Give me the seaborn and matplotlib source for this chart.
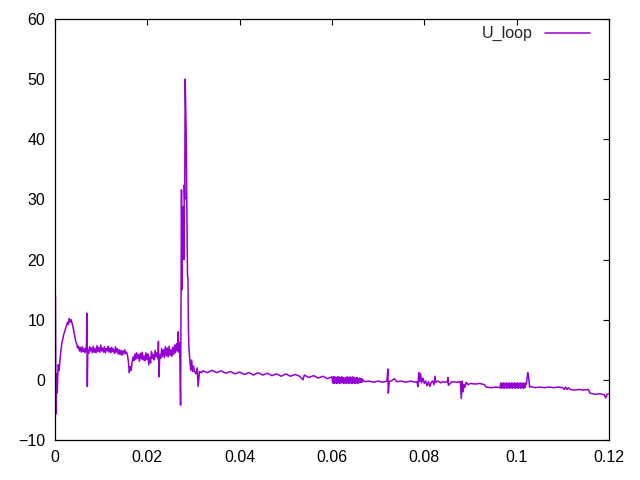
import matplotlib
matplotlib.use("Agg")
import matplotlib.pyplot as plt
import seaborn as sns
import pandas as pd

# U_loop signal (time in s, voltage)
t_rise = [0.0001, 0.0002, 0.0003, 0.0004, 0.0005, 0.0006, 0.0007, 0.0009, 0.0011, 0.0013,
          0.0015, 0.0017, 0.0019, 0.0021, 0.0023, 0.0025, 0.0027, 0.0029, 0.0031, 0.0033,
          0.0035, 0.0037, 0.0039, 0.0041, 0.0043, 0.0045, 0.0047, 0.0049, 0.0051, 0.0053]
u_rise = [14.0, -5.7, 1.0, -0.5, -2.2, 0.8, 2.5, 1.5, 3.5, 5.0,
          6.2, 6.8, 7.6, 8.0, 8.6, 9.0, 9.6, 9.2, 10.2, 9.6,
          10.0, 9.4, 8.8, 8.0, 7.2, 6.4, 6.0, 5.3, 5.6, 4.8]

t_plateau = [0.0055, 0.0057, 0.0059, 0.0061, 0.0063, 0.0065, 0.0067, 0.0068, 0.0069, 0.0070,
             0.0071, 0.0073, 0.0075, 0.0077, 0.0079, 0.0081, 0.0083, 0.0085, 0.0087, 0.0089,
             0.0091, 0.0093, 0.0095, 0.0097, 0.0099, 0.0101, 0.0103, 0.0105, 0.0107, 0.0109,
             0.0111, 0.0113, 0.0115, 0.0117, 0.0119, 0.0121, 0.0123, 0.0125, 0.0127, 0.0129,
             0.0131, 0.0133, 0.0135, 0.0137, 0.0139, 0.0141, 0.0143, 0.0145, 0.0147, 0.0149,
             0.0151, 0.0153, 0.0155, 0.0157, 0.0159, 0.0161, 0.0163, 0.0165, 0.0167, 0.0169]
u_plateau = [5.4, 4.6, 5.5, 4.7, 5.2, 4.5, 5.3, 4.8, 11.1, -1.1,
             5.0, 4.4, 5.5, 4.8, 5.3, 4.5, 5.6, 4.6, 5.2, 4.5,
             5.7, 4.7, 5.4, 4.6, 5.8, 4.8, 5.3, 4.6, 5.5, 4.5,
             5.2, 4.8, 5.6, 4.6, 5.3, 4.5, 5.4, 4.7, 5.1, 4.4,
             5.5, 4.6, 5.2, 4.3, 5.0, 4.2, 4.9, 4.1, 4.8, 4.3,
             5.0, 4.4, 4.6, 4.1, 3.0, 1.2, 2.2, 1.6, 3.0, 3.8]

t_pre = [0.0171, 0.0173, 0.0175, 0.0177, 0.0179, 0.0181, 0.0183, 0.0185, 0.0187, 0.0189,
         0.0191, 0.0193, 0.0195, 0.0197, 0.0199, 0.0201, 0.0203, 0.0205, 0.0207, 0.0209,
         0.0211, 0.0213, 0.0215, 0.0217, 0.0219, 0.0221, 0.0223, 0.0224, 0.0225, 0.0227,
         0.0229, 0.0231, 0.0233, 0.0235, 0.0237, 0.0239, 0.0241, 0.0243, 0.0245, 0.0247,
         0.0249, 0.0251, 0.0253, 0.0255, 0.0257, 0.0259, 0.0261, 0.0263, 0.0265, 0.0267,
         0.0268, 0.0270, 0.0272]
u_pre = [3.2, 4.3, 3.4, 4.5, 3.6, 4.2, 3.1, 4.4, 3.5, 4.6,
         3.3, 4.0, 3.2, 4.5, 3.4, 4.3, 2.5, 3.8, 2.8, 4.7,
         3.6, 4.2, 3.3, 4.9, 3.8, 4.5, 3.5, 6.4, 0.5, 4.2,
         3.6, 5.2, 3.9, 5.0, 3.7, 5.5, 4.0, 5.3, 3.8, 5.6,
         4.1, 5.0, 3.9, 5.4, 4.2, 5.8, 4.5, 6.0, 4.8, 8.0,
         4.6, 6.2, -4.2]

t_spike = [0.0274, 0.0275, 0.0276, 0.0278, 0.0279, 0.0280, 0.0281, 0.0282, 0.0284, 0.0285,
           0.0287, 0.0288, 0.0289, 0.0290, 0.0292, 0.0294, 0.0296, 0.0298, 0.0300, 0.0302,
           0.0305, 0.0308, 0.0310, 0.0313, 0.0318]
u_spike = [31.6, 15.0, 25.0, 28.8, 20.0, 32.4, 30.0, 50.0, 41.5, 33.8,
           17.2, 17.0, 8.3, 5.5, 3.3, 1.6, 3.3, 1.4, 2.3, 1.4,
           1.0, 2.0, -1.1, 1.4, 1.2]

t_decay = [0.0320, 0.0330, 0.0340, 0.0350, 0.0360, 0.0370, 0.0380, 0.0390, 0.0400, 0.0410,
           0.0420, 0.0430, 0.0440, 0.0450, 0.0460, 0.0470, 0.0480, 0.0490, 0.0500, 0.0510,
           0.0520, 0.0530, 0.0537, 0.0540, 0.0550, 0.0560, 0.0570, 0.0580, 0.0590, 0.0600,
           0.06015, 0.0603, 0.06045, 0.0606, 0.06075, 0.0609, 0.06105, 0.0612, 0.06135, 0.0615,
           0.06165, 0.0618, 0.06195, 0.0621, 0.06225, 0.0624, 0.06255, 0.0627, 0.06285, 0.0630,
           0.06315, 0.0633, 0.06345, 0.0636, 0.06375, 0.0639, 0.06405, 0.0642, 0.06435, 0.0645,
           0.06465, 0.0648, 0.06495, 0.0651, 0.06525, 0.0654, 0.06555, 0.0657, 0.06585, 0.0660,
           0.06615, 0.0663, 0.06645, 0.0666, 0.0670, 0.0680, 0.0690, 0.0700, 0.0710, 0.0719,
           0.0721, 0.0722, 0.0724, 0.0730, 0.0735, 0.0740, 0.0750, 0.0760, 0.0770, 0.0780]
u_decay = [1.5, 1.2, 1.6, 1.2, 1.5, 1.1, 1.4, 1.0, 1.3, 0.9,
           1.2, 0.8, 1.2, 0.8, 1.1, 0.7, 1.0, 0.6, 1.0, 0.6,
           0.9, 0.6, 0.0, 0.8, 0.4, 0.7, 0.3, 0.6, 0.2, 0.5,
           -0.5, 0.5, -0.6, 0.5, -0.5, 0.4, -0.6, 0.5, -0.5, 0.5,
           -0.6, 0.4, -0.5, 0.5, -0.5, 0.4, -0.6, 0.3, -0.5, 0.4,
           -0.6, 0.5, -0.5, 0.4, -0.6, 0.5, -0.5, 0.4, -0.6, 0.5,
           -0.5, 0.4, -0.6, 0.3, -0.5, 0.4, -0.6, 0.2, -0.5, 0.3,
           -0.4, 0.2, -0.4, 0.1, -0.3, -0.2, -0.4, -0.2, -0.4, -0.2,
           1.8, -2.2, -0.3, -0.1, 0.2, -0.3, -0.2, -0.4, -0.2, -0.4]

t_tail = [0.0784, 0.0786, 0.0788, 0.0790, 0.0792, 0.0794, 0.0797, 0.0800, 0.0803, 0.0806,
          0.0809, 0.0812, 0.0815, 0.0818, 0.0821, 0.0823, 0.0825, 0.0830, 0.0835, 0.0840,
          0.0845, 0.0850, 0.0851, 0.0852, 0.0860, 0.0870, 0.0878, 0.0880, 0.0882, 0.0884,
          0.0886, 0.0888, 0.0891, 0.0895, 0.0900, 0.0910, 0.0920, 0.0930, 0.0934, 0.0945,
          0.0955, 0.0964, 0.09655, 0.0967, 0.09685, 0.0970, 0.09715, 0.0973, 0.09745, 0.0976,
          0.09775, 0.0979, 0.09805, 0.0982, 0.09835, 0.0985, 0.09865, 0.0988, 0.09895, 0.0991,
          0.09925, 0.0994, 0.09955, 0.0997, 0.09985, 0.1000, 0.10015, 0.1003, 0.10045, 0.1006,
          0.10075, 0.1009, 0.10105, 0.1012, 0.10135, 0.1015, 0.10165, 0.1018, 0.10195, 0.1021,
          0.1024, 0.1026, 0.1028, 0.1030, 0.1040, 0.1050, 0.1060, 0.1070, 0.1080,
          0.1090, 0.1100, 0.1103, 0.1106, 0.1109, 0.1112, 0.1116, 0.1125, 0.1135, 0.1145,
          0.1155, 0.1159, 0.1170, 0.1180, 0.1190, 0.1193, 0.1196, 0.1199]
u_tail = [-0.3, -1.1, 1.2, -0.3, 1.0, -0.5, 0.3, -0.6, -0.2, -1.0,
          -0.3, -1.1, -0.4, -0.2, -0.8, 0.6, -0.4, -0.2, -0.5, -0.3,
          -0.4, -0.3, 0.4, -0.9, -0.3, -0.4, -0.3, -3.1, -0.2, -2.0,
          -0.8, -1.2, -0.4, -0.8, -0.6, -0.7, -0.6, -0.8, -1.2, -1.3,
          -1.2, -1.3, -0.5, -1.4, -0.6, -1.3, -0.5, -1.4, -0.6, -1.3,
          -0.5, -1.4, -0.6, -1.3, -0.5, -1.4, -0.6, -1.3, -0.5, -1.4,
          -0.6, -1.3, -0.5, -1.4, -0.6, -1.3, -0.5, -1.4, -0.6, -1.3,
          -0.5, -1.4, -0.6, -1.3, -0.5, -1.4, -0.6, -1.3, -0.5, -0.7,
          1.2, 0.4, -1.2, -1.1, -1.3, -1.2, -1.3, -1.2, -1.3,
          -1.2, -1.3, -1.6, -1.2, -1.6, -1.3, -1.6, -1.7, -1.6, -1.7,
          -1.6, -2.2, -2.4, -2.3, -2.5, -3.0, -2.4, -2.3]

x_ticks = [0, 0.02, 0.04, 0.06, 0.08, 0.1, 0.12]
x_labels = ["0", "0.02", "0.04", "0.06", "0.08", "0.1", "0.12"]
y_ticks = [-10, 0, 10, 20, 30, 40, 50, 60]

df = pd.DataFrame({
    "t": t_rise + t_plateau + t_pre + t_spike + t_decay + t_tail,
    "U_loop": u_rise + u_plateau + u_pre + u_spike + u_decay + u_tail,
})

sns.set_style("white")
plt.rcParams["font.family"] = ["Liberation Sans", "DejaVu Sans"]

fig = plt.figure(figsize=(6.4, 4.8), dpi=100)
ax = fig.add_axes([55 / 640, 40 / 480, 554 / 640, 421 / 480])

sns.lineplot(data=df, x="t", y="U_loop", sort=False, estimator=None,
             color="#9400D3", linewidth=1.1, label="U_loop", ax=ax)

ax.set_xlim(0, 0.12)
ax.set_ylim(-10, 60)
ax.set_xticks(x_ticks)
ax.set_xticklabels(x_labels)
ax.set_yticks(y_ticks)
ax.set_xlabel("")
ax.set_ylabel("")
ax.tick_params(direction="in", top=True, right=True, length=4, width=0.8,
               labelsize=11.5, colors="black", pad=7)
for s in ax.spines.values():
    s.set_color("black")
    s.set_linewidth(0.9)

ax.legend(loc="upper right", frameon=False, markerfirst=False, fontsize=11.5,
          handlelength=2.8, borderaxespad=0.3, bbox_to_anchor=(0.9856, 1.0095))

fig.savefig("out.png", dpi=100)
